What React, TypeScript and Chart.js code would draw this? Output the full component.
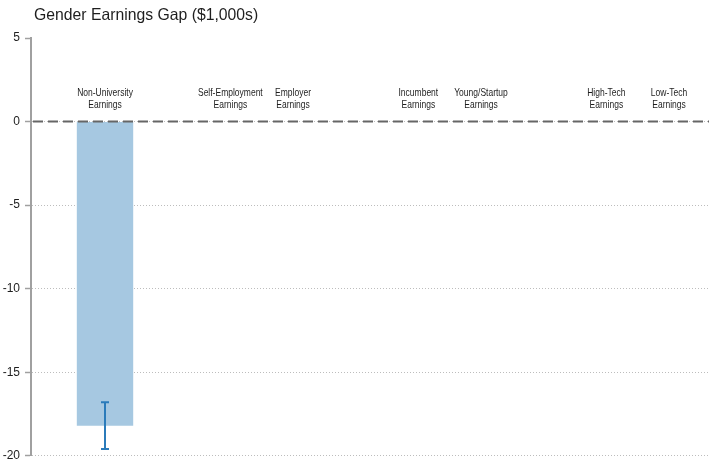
import { useEffect, useRef } from "react";
import { Chart, registerables } from "chart.js";

Chart.register(...registerables);

// Chart text
const chartTitle = "Gender Earnings Gap ($1,000s)";
const labelSecondLine = "Earnings";

// Comparison groups; a blank slot separates neighbouring groups
const groups: string[][] = [
  ["Non-University"],
  ["Self-Employment", "Employer"],
  ["Incumbent", "Young/Startup"],
  ["High-Tech", "Low-Tech"],
];

// Gap estimates ($1,000s) and 95% confidence bounds, one per category
const gapValues: (number | null)[] = [-18.2, null, null, null, null, null, null];
const ciLower: (number | null)[] = [-19.6, null, null, null, null, null, null];
const ciUpper: (number | null)[] = [-16.8, null, null, null, null, null, null];

// Y axis
const yTickValues = [5, 0, -5, -10, -15, -20];

const BAR_COLOR = "#a6c8e1";
const CI_COLOR = "#2b7bba";
const TEXT_COLOR = "#1e1e1e";
const AXIS_COLOR = "#a0a0a0";

// Slot index of every category along the x axis
function slotIndices(): number[] {
  const out: number[] = [];
  let pos = 0;
  groups.forEach((g, gi) => {
    if (gi > 0) pos += 1;
    g.forEach((_, i) => {
      if (i > 0 || gi > 0) pos += 1;
      out.push(pos);
    });
  });
  return out;
}

// Draws text squeezed horizontally, giving a condensed sans face
function condensedText(ctx: CanvasRenderingContext2D, text: string, x: number, y: number, squeeze: number) {
  ctx.save();
  ctx.translate(x, y);
  ctx.scale(squeeze, 1);
  ctx.fillText(text, 0, 0);
  ctx.restore();
}

export default function App() {
  const canvasRef = useRef<HTMLCanvasElement | null>(null);

  useEffect(() => {
    const canvas = canvasRef.current;
    if (!canvas) return;
    const names = groups.flat();
    const slots = slotIndices();

    const overlay = {
      id: "overlay",
      afterDatasetsDraw(chart: any) {
        const { ctx } = chart;
        const xs = chart.scales.x;
        const ys = chart.scales.y;
        ctx.save();
        ctx.strokeStyle = CI_COLOR;
        ctx.lineWidth = 2;
        ctx.lineCap = "butt";
        slots.forEach((s, i) => {
          const lo = ciLower[i];
          const hi = ciUpper[i];
          if (lo == null || hi == null) return;
          const x = Math.round(xs.getPixelForValue(s));
          const y1 = ys.getPixelForValue(lo);
          const y2 = ys.getPixelForValue(hi);
          ctx.beginPath();
          ctx.moveTo(x, y1);
          ctx.lineTo(x, y2);
          ctx.moveTo(x - 4, y1);
          ctx.lineTo(x + 4, y1);
          ctx.moveTo(x - 4, y2);
          ctx.lineTo(x + 4, y2);
          ctx.stroke();
        });
        ctx.restore();
      },
      afterDraw(chart: any) {
        const { ctx, chartArea } = chart;
        const xs = chart.scales.x;
        const ys = chart.scales.y;
        const y0 = ys.getPixelForValue(0);

        // reference line at zero
        ctx.save();
        ctx.strokeStyle = "#666666";
        ctx.lineWidth = 2;
        ctx.setLineDash([10, 5]);
        ctx.beginPath();
        ctx.moveTo(chartArea.left + 2, y0);
        ctx.lineTo(chartArea.right, y0);
        ctx.stroke();
        ctx.restore();

        // category labels above the zero line
        ctx.save();
        ctx.fillStyle = TEXT_COLOR;
        ctx.font = '10.5px "Liberation Sans", Arial, sans-serif';
        ctx.textAlign = "center";
        ctx.textBaseline = "alphabetic";
        slots.forEach((s, i) => {
          const x = xs.getPixelForValue(s);
          condensedText(ctx, names[i], x, y0 - 26, 0.81);
          condensedText(ctx, labelSecondLine, x, y0 - 14, 0.81);
        });
        ctx.restore();

        // title
        ctx.save();
        ctx.fillStyle = TEXT_COLOR;
        ctx.font = '16.5px "Liberation Sans", Arial, sans-serif';
        ctx.textAlign = "left";
        ctx.textBaseline = "alphabetic";
        condensedText(ctx, chartTitle, 34, 20, 0.955);
        ctx.restore();
      },
    };

    const chart = new Chart(canvas, {
      type: "bar",
      data: {
        datasets: [
          {
            label: chartTitle,
            data: slots.map((s, i) => ({ x: s, y: gapValues[i] })) as any,
            backgroundColor: BAR_COLOR,
            borderWidth: 0,
            barPercentage: 0.9,
            categoryPercentage: 1,
          },
        ],
      },
      options: {
        responsive: false,
        animation: false,
        devicePixelRatio: 1,
        layout: { padding: { top: 38, bottom: 12, left: 0, right: 0 } },
        plugins: {
          legend: { display: false },
          title: { display: false },
          tooltip: { enabled: false },
        },
        scales: {
          x: {
            type: "linear",
            min: -1.181,
            max: 9.638,
            offset: false,
            display: false,
          },
          y: {
            min: -20,
            max: 5,
            z: 1,
            afterBuildTicks: (scale: any) => {
              scale.ticks = yTickValues.map((v) => ({ value: v }));
            },
            afterFit: (scale: any) => {
              scale.width = 31;
            },
            border: {
              display: true,
              color: AXIS_COLOR,
              width: 2,
              dash: [1, 2],
            },
            grid: {
              color: (ctx: any) =>
                ctx.tick && ctx.tick.value === 5 ? "rgba(0,0,0,0)" : "#bdbdbd",
              lineWidth: 1,
              drawTicks: true,
              tickLength: 6,
              tickColor: AXIS_COLOR,
              tickWidth: 1.5,
            },
            ticks: {
              padding: 5,
              color: TEXT_COLOR,
              font: { family: '"Liberation Sans", Arial, sans-serif', size: 12 },
              callback: (v: any) => String(v),
            },
          },
        },
      },
      plugins: [overlay],
    });

    return () => chart.destroy();
  }, []);

  return (
    <div style={{ position: "fixed", left: 0, top: 0, width: 709, height: 468, background: "#ffffff" }}>
      <canvas ref={canvasRef} width={709} height={468} />
    </div>
  );
}
